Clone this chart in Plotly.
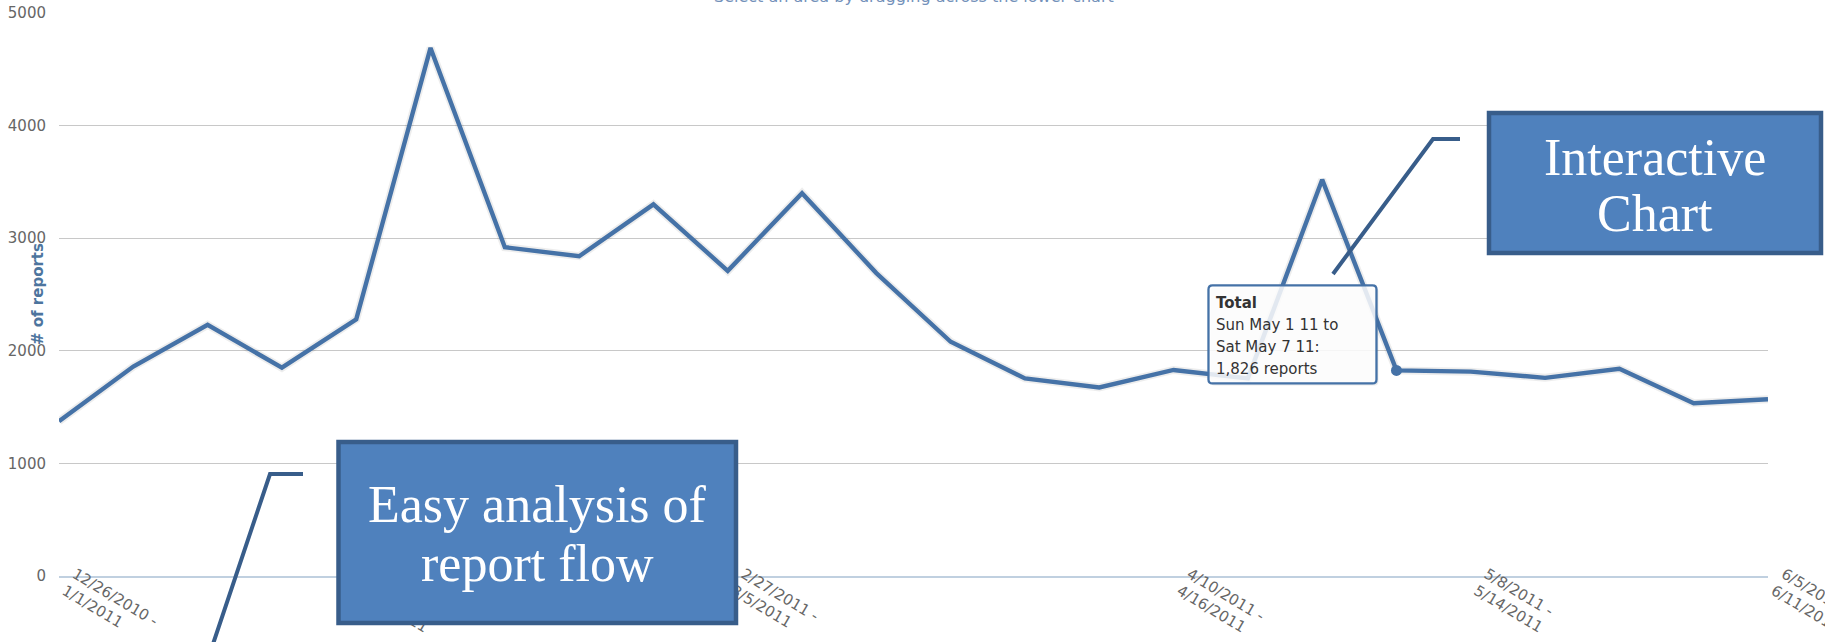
import pandas as pd
import plotly.graph_objects as go

# Weekly report totals (week starting Sunday)
week_start = [
    "2010-12-26", "2011-01-02", "2011-01-09", "2011-01-16", "2011-01-23", "2011-01-30",
    "2011-02-06", "2011-02-13", "2011-02-20", "2011-02-27", "2011-03-06", "2011-03-13",
    "2011-03-20", "2011-03-27", "2011-04-03", "2011-04-10", "2011-04-17", "2011-04-24",
    "2011-05-01", "2011-05-08", "2011-05-15", "2011-05-22", "2011-05-29", "2011-06-05",
]
reports = [
    1375, 1860, 2230, 1850, 2280, 4690, 2920, 2840, 3300, 2710, 3400, 2690,
    2080, 1755, 1675, 1830, 1755, 3520, 1826, 1815, 1760, 1840, 1535, 1570,
]
tick_weeks = [0, 4, 9, 15, 19, 23]
y_ticks = [0, 1000, 2000, 3000, 4000, 5000]
hover_week = 18

series_name = "Total"
y_title = "# of reports"
subtitle = "Select an area by dragging across the lower chart"
callout_flow = ["Easy analysis of", "report flow"]
callout_chart = ["Interactive", "Chart"]

LINE = "#4572A7"
BOX_FILL = "#4F81BD"
BOX_EDGE = "#385D8A"
FONT = "DejaVu Sans"
SERIF = "Liberation Serif"

W, H = 1825, 642
ML, MR, MT, MB = 59, 57, 13, 66
PW, PH = W - ML - MR, H - MT - MB


def px(x):
    return (x - ML) / PW


def py(y):
    return 1 - (y - MT) / PH


starts = pd.to_datetime(week_start)
ends = starts + pd.Timedelta(days=6)


def mdy(d):
    return f"{d.month}/{d.day}/{d.year}"


tick_text = [f"{mdy(starts[i])} -<br>{mdy(ends[i])}" for i in tick_weeks]

fig = go.Figure()

# soft shadow under the series line
fig.add_trace(go.Scatter(
    x=starts, y=reports, mode="lines",
    line=dict(color="rgba(0,0,0,0.07)", width=8),
    hoverinfo="skip", showlegend=False,
))
fig.add_trace(go.Scatter(
    x=starts, y=reports, mode="lines", name=series_name,
    line=dict(color=LINE, width=4.4),
    showlegend=False,
))
# highlighted (hovered) week
fig.add_trace(go.Scatter(
    x=[starts[hover_week]], y=[reports[hover_week]], mode="markers",
    marker=dict(color=LINE, size=11),
    hoverinfo="skip", showlegend=False,
))

shapes = []
annotations = []

# tooltip box next to the hovered point, sized in pixels
def rounded_path(l, r, t, b, rad):
    return (f"M {l+rad},{t} L {r-rad},{t} Q {r},{t} {r},{t-rad} "
            f"L {r},{b+rad} Q {r},{b} {r-rad},{b} L {l+rad},{b} "
            f"Q {l},{b} {l},{b+rad} L {l},{t-rad} Q {l},{t} {l+rad},{t} Z")


tip = dict(l=-188, r=-20, t=85, b=-13)
hx, hy = starts[hover_week], reports[hover_week]
shapes.append(dict(
    type="path", xref="x", yref="y", xsizemode="pixel", ysizemode="pixel",
    xanchor=hx, yanchor=hy,
    path=rounded_path(tip["l"] + 2, tip["r"] + 2, tip["t"] - 2, tip["b"] - 2, 4),
    fillcolor="rgba(0,0,0,0.08)", line=dict(width=0), layer="above",
))
shapes.append(dict(
    type="path", xref="x", yref="y", xsizemode="pixel", ysizemode="pixel",
    xanchor=hx, yanchor=hy,
    path=rounded_path(tip["l"], tip["r"], tip["t"], tip["b"], 4),
    fillcolor="rgba(255,255,255,0.85)", line=dict(color=LINE, width=2.3), layer="above",
))

s, e = starts[hover_week], ends[hover_week]
tip_lines = [
    f"<b>{series_name}</b>",
    f"{s:%a %b} {s.day} {s:%y} to",
    f"{e:%a %b} {e.day} {e:%y}:",
    f"{reports[hover_week]:,} reports",
]
for k, txt in enumerate(tip_lines):
    annotations.append(dict(
        x=hx, y=hy, xref="x", yref="y", text=txt, showarrow=False,
        xanchor="left", yanchor="middle", xshift=-182, yshift=67.5 - 22.2 * k,
        font=dict(family=FONT, size=15, color="#333333"),
    ))

# callout boxes
def box(x0, y0, x1, y1):
    return dict(type="rect", xref="paper", yref="paper",
                x0=px(x0), x1=px(x1), y0=py(y1), y1=py(y0),
                fillcolor=BOX_FILL, line=dict(color=BOX_EDGE, width=4.5), layer="above")


def leader(points):
    d = "M " + " L ".join(f"{px(x)},{py(y)}" for x, y in points)
    return dict(type="path", xref="paper", yref="paper", path=d,
                line=dict(color=BOX_EDGE, width=4), layer="above")


shapes.append(leader([(303, 474), (270, 474), (211, 650)]))
shapes.append(box(338.5, 442, 736, 623))
shapes.append(leader([(1460, 139), (1433, 139), (1333, 274)]))
shapes.append(box(1489, 113, 1821, 253))

for txt, yc in zip(callout_flow, [504, 563]):
    annotations.append(dict(
        x=px(537), y=py(yc), xref="paper", yref="paper", text=txt, showarrow=False,
        xanchor="center", yanchor="middle",
        font=dict(family=SERIF, size=52, color="white"),
    ))
for txt, yc in zip(callout_chart, [157, 213]):
    annotations.append(dict(
        x=px(1655), y=py(yc), xref="paper", yref="paper", text=txt, showarrow=False,
        xanchor="center", yanchor="middle",
        font=dict(family=SERIF, size=52, color="white"),
    ))

# axis title and subtitle
annotations.append(dict(
    x=px(37.5), y=0.5, xref="paper", yref="paper", text=f"<b>{y_title}</b>",
    showarrow=False, textangle=-90, xanchor="center", yanchor="middle",
    font=dict(family=FONT, size=15, color="#4d759e"),
))
annotations.append(dict(
    x=0.5, y=py(-3), xref="paper", yref="paper", text=subtitle,
    showarrow=False, xanchor="center", yanchor="middle",
    font=dict(family=FONT, size=16, color="#7391ba"),
))

fig.update_layout(
    width=W, height=H,
    margin=dict(l=ML, r=MR, t=MT, b=MB),
    paper_bgcolor="white", plot_bgcolor="white",
    font=dict(family=FONT, color="#666666"),
    shapes=shapes, annotations=annotations,
    xaxis=dict(
        type="date", range=[starts[0], starts[-1]],
        tickmode="array", tickvals=[starts[i] for i in tick_weeks], ticktext=tick_text,
        tickangle=31, ticks="", showgrid=False, zeroline=False,
        showline=True, linecolor="#C0D0E0", linewidth=1.5,
        ticklabelstandoff=-18, ticklabelshift=16, ticklabeloverflow="allow",
        tickfont=dict(family=FONT, size=15, color="#666666"),
        automargin=False,
    ),
    yaxis=dict(
        range=[0, 5000], tickmode="array", tickvals=y_ticks,
        showgrid=True, gridcolor="#C8C8C8", gridwidth=1.4, zeroline=False,
        ticks="", ticklabelstandoff=12,
        tickfont=dict(family=FONT, size=15, color="#666666"),
        automargin=False,
    ),
)

fig.write_html("out.html")
